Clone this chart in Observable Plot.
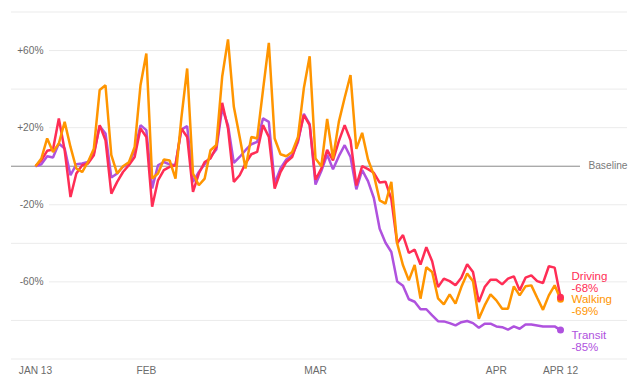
<!DOCTYPE html>
<html>
<head>
<meta charset="utf-8">
<script src="https://cdn.jsdelivr.net/npm/d3@7"></script>
<script src="https://cdn.jsdelivr.net/npm/@observablehq/plot@0.6"></script>
<style>
  html, body { margin: 0; padding: 0; background: #fff; }
  #chart svg { display: block; }
</style>
</head>
<body>
<div id="chart"></div>
<script>
const startDate = new Date(Date.UTC(2020, 0, 13));
const dayCount = 91;

const driving = [
  0, 3, 8, 8.7, 24.8, 8.3, -16, -3.8, 0.5, 1.4,
  5.7, 21.3, 13.5, -14.2, -8.1, -3, 0.5, 4.8, 19.6, 15.2,
  -21, -7.3, -2, -0.3, 0.5, 19.6, 15.2, -13.3, -3.8, 2.2,
  4, 10, 32.9, 19.6, -8.1, -4.7, 1.4, 6.2, 7.4, 21.3,
  15.2, -11.6, -3, 2.2, 4.8, 13.5, 26.5, 21.3, -7, -1.2,
  8.5, 3, 13, 21.3, 13.5, -10, 0, -1.5, -3.4, -8.5,
  -8, -17, -40, -35.7, -45, -43.3, -51, -42, -49.3, -62.7,
  -58.3, -59.6, -61.8, -57.8, -50.9, -54.9, -70.5, -62.7, -58.9, -58.9,
  -61.3, -58.3, -57.1, -64.4, -57.8, -56.6, -59.6, -60.6, -51.9, -52.6,
  -68
];
const walking = [
  0, 4, 14.4, 7.4, 11.8, 23, 10, -1.2, -3, 2.2,
  9, 39.5, 42, 5.7, -3.8, 0, 2, 10, 42, 58.5,
  -6.4, -3.8, 3.5, 3, -6.4, 24.8, 50.7, -3.8, -9.9, -6.4,
  8.3, 11, 46.4, 65.8, 30.8, 15.2, -1.2, 15.2, 14.4, 39.5,
  64, 14.4, 6.2, 5.2, 7.4, 15.2, 40.4, 57, 4, 0,
  24.5, 4, 23, 35.5, 47.3, 9, 17.3, 3.5, -4.5, -17.7,
  -19.4, -8.1, -40, -51.4, -59.2, -51.2, -68.7, -52.4, -54.9, -68.5,
  -71.7, -66.5, -71.3, -62.7, -55.7, -59.6, -79.1, -72.2, -66.5, -69.6,
  -73.9, -73.9, -62.3, -67, -62.3, -61.8, -68.2, -74.5, -67, -61.8,
  -69
];
const transit = [
  0, 1, 5.2, 4.5, 11.8, 9.2, -4.7, 1, 1.4, 2.2,
  6.6, 20.8, 17, -5.9, -3.8, -0.3, 1.4, 8.3, 21.3, 18.7,
  -11.5, 0.5, 2.2, 1, 0.5, 19, 20.8, -8.1, -3, 1,
  4.8, 8.7, 30, 21.3, 1.7, 4.8, 8.3, 11.4, 12.6, 24.8,
  23, -9, -1.2, 3.5, 5.7, 12.6, 27.2, 21.8, -9.5, -2.5,
  6, -1.6, 5.2, 10.9, 4.8, -12, -2, -7.7, -16.5, -32.4,
  -39.7, -44.5, -59.8, -62, -69, -70.3, -74.2, -74.2, -77.4, -80.4,
  -80.5, -81.4, -82.6, -80.9, -80.3, -81.4, -83.8, -81.7, -81.7, -83.1,
  -83.5, -84.8, -83.1, -84.3, -82.1, -82.1, -82.6, -83.1, -83.1, -83.1,
  -85
];

const modes = ["Driving", "Walking", "Transit"];
const modeColors = ["#ff2d55", "#ff9500", "#af52de"];
const modeValues = [driving, walking, transit];

const yTickLabeled = [60, 20, -20, -60];
const yGridPlain = [80, 40, -40, -80, -100];
const xTickDates = [
  new Date(Date.UTC(2020, 0, 13)),
  new Date(Date.UTC(2020, 1, 1)),
  new Date(Date.UTC(2020, 2, 1)),
  new Date(Date.UTC(2020, 3, 1)),
  new Date(Date.UTC(2020, 3, 12))
];
const xTickLabels = ["JAN 13", "FEB", "MAR", "APR", "APR 12"];
const baselineLabel = "Baseline";

const dates = d3.range(dayCount).map(i => d3.utcDay.offset(startDate, i));
const rows = modes.flatMap((m, k) => modeValues[k].map((v, i) => ({mode: m, date: dates[i], value: v})));
const lastRows = modes.map((m, k) => ({
  mode: m,
  date: dates[dayCount - 1],
  value: modeValues[k][dayCount - 1],
  label: m + "\n" + Math.round(modeValues[k][dayCount - 1]) + "%"
}));
const xTicks = xTickDates.map((d, i) => ({date: d, label: xTickLabels[i]}));
const fmtPct = v => (v > 0 ? "+" : "") + v + "%";

const font = "'Liberation Sans', Arial, Helvetica, sans-serif";
const labelOffsets = {Driving: -15, Walking: 6, Transit: 10.9};

const lineMark = m => Plot.line(rows.filter(r => r.mode === m), {
  x: "date", y: "value", stroke: "mode", strokeWidth: 2.5,
  strokeLinejoin: "miter", strokeLinecap: "butt"
});

const chart = Plot.plot({
  width: 640,
  height: 392,
  marginLeft: 35,
  marginRight: 80,
  marginTop: 11.5,
  marginBottom: 33.5,
  style: {fontFamily: font, background: "#fff", overflow: "visible"},
  x: {type: "utc", domain: [dates[0], dates[dayCount - 1]], axis: null},
  y: {domain: [-100, 80], axis: null},
  color: {domain: modes, range: modeColors},
  marks: [
    Plot.ruleY(yGridPlain, {stroke: "#ebebeb", strokeWidth: 1, insetLeft: -24, insetRight: -67}),
    Plot.ruleY(yTickLabeled, {stroke: "#ebebeb", strokeWidth: 1, insetLeft: 14, insetRight: -67}),
    Plot.ruleY([0], {stroke: "#8a8a8a", strokeWidth: 1, insetLeft: -24, insetRight: -20}),
    Plot.text(yTickLabeled, {
      y: d => d, text: d => fmtPct(d), frameAnchor: "left", textAnchor: "end",
      dx: 8, fill: "#6b6b6b", fontSize: 10.2
    }),
    Plot.text([baselineLabel], {
      y: [0], text: d => d, frameAnchor: "right", textAnchor: "end",
      dx: 67, fill: "#7a7a7a", fontSize: 10.2
    }),
    Plot.text(xTicks, {
      x: "date", text: "label", frameAnchor: "bottom", lineAnchor: "middle",
      dy: 11.5, fill: "#6b6b6b", fontSize: 10.2
    }),
    lineMark("Transit"),
    lineMark("Driving"),
    lineMark("Walking"),
    Plot.dot(lastRows.filter(d => d.mode !== "Driving"), {x: "date", y: "value", fill: "mode", r: 3.5}),
    Plot.dot(lastRows.filter(d => d.mode === "Driving"), {x: "date", y: "value", fill: "mode", r: 3.5}),
    ...modes.map(m => Plot.text(lastRows.filter(d => d.mode === m), {
      x: "date", y: "value", text: "label", fill: "mode", textAnchor: "start",
      lineAnchor: "middle", lineHeight: 1.04, dx: 11, dy: labelOffsets[m], fontSize: 11.5
    }))
  ]
});
document.getElementById("chart").appendChild(chart);
</script>
</body>
</html>
